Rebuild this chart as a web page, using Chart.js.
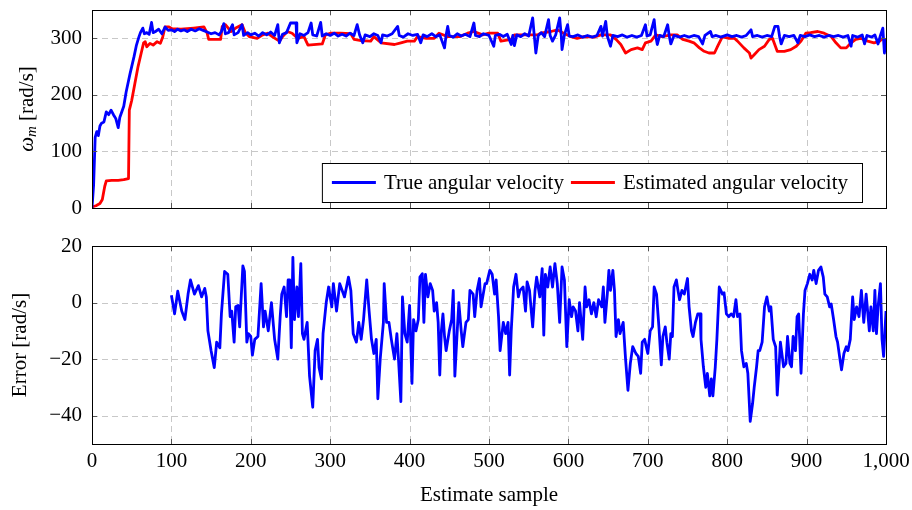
<!DOCTYPE html>
<html>
<head>
<meta charset="utf-8">
<script src="https://cdn.jsdelivr.net/npm/chart.js@4/dist/chart.umd.min.js"></script>
<style>
  body { margin: 0; background: #fff; }
  canvas { position: absolute; left: 0; }
  #top { top: 0; }
  #bottom { top: 230px; }
</style>
</head>
<body>
<canvas id="top" width="912" height="230"></canvas>
<canvas id="bottom" width="912" height="280"></canvas>
<script>
// values
var trueSamples = [0,2,4,6,8,10,12,15,18,21,24,27,30,33,35,38,40,43,46,48,50,53,56,59,61,64,66,69,72,75,77,80,84,88,92,96,100,
  104,108,112,116,120,125,130,135,140,145,150,155,160,163,166,168,172,177,179,184,189,191,196,200,205,210,215,220,225,230,234,236,240,245,250,257,258,262,267,272,276,278,283,288,290,295,
  300,305,310,315,320,325,330,334,337,341,344,350,355,360,364,366,372,378,385,387,392,398,404,410,414,417,422,428,433,438,444,446,448,450,455,460,465,470,476,481,483,488,493,
  500,506,508,513,518,523,528,530,532,535,540,545,550,555,557,559,562,566,570,575,577,580,584,589,591,592,595,599,601,606,612,618,624,630,636,641,643,647,649,653,656,662,668,674,680,686,692,697,699,
  703,708,710,712,715,720,725,727,729,733,740,746,752,758,764,769,772,779,781,786,792,800,806,812,818,824,830,832,838,844,850,856,860,864,866,868,872,878,884,889,892,898,
  904,910,916,922,928,934,940,946,952,956,958,964,970,973,976,982,986,990,993,996,998,1000];
var trueValues = [0,40,125,135,128,145,150,152,170,165,173,165,158,142,160,172,180,205,225,238,250,268,288,302,310,318,308,310,307,328,310,312,316,308,320,314,315,
  312,316,313,315,312,316,313,317,314,311,308,310,306,312,326,308,310,324,306,310,324,305,310,306,309,304,310,306,311,305,324,292,307,310,327,327,292,308,305,310,327,306,304,328,304,308,
  305,309,304,307,304,309,305,324,306,292,306,303,308,305,292,306,304,308,321,305,302,308,305,307,292,306,303,308,303,306,283,306,321,305,302,308,304,307,303,327,305,303,308,
  305,286,305,307,303,307,289,305,287,306,303,308,304,336,305,274,305,310,303,333,305,295,306,336,305,280,306,324,304,303,306,302,305,302,305,321,304,330,304,286,305,303,306,302,305,302,305,324,304,
  306,333,304,289,305,303,324,304,290,305,302,305,302,305,303,290,305,312,303,305,302,306,303,305,302,305,315,303,305,302,305,303,321,321,303,290,305,303,305,292,305,303,
  306,303,305,302,305,303,305,302,305,286,305,302,306,290,305,302,306,290,305,318,274,300];

var estSamples = [0,5,10,13,16,18,25,33,40,46,47,50,54,58,62,65,67,69,73,77,82,86,89,92,97,101,112,128,141,145,147,162,164,168,175,181,189,193,198,
  208,215,221,227,236,240,246,252,259,267,272,290,294,301,313,326,330,339,351,355,364,381,389,397,406,410,421,431,437,448,463,473,481,492,
  500,511,515,528,532,549,561,565,578,586,594,603,611,620,632,641,653,660,666,672,679,687,693,697,
  704,710,718,729,737,744,752,758,765,771,777,784,788,794,802,809,813,821,828,830,834,840,847,853,857,863,872,880,887,893,899,
  905,914,922,931,937,943,950,956,962,968,977,985,992,996,1000];
var estValues = [2,4,8,15,38,48,49,49,50,52,173,190,220,250,274,292,294,285,291,288,294,291,302,320,320,317,316,318,320,309,298,298,321,324,312,318,324,310,303,
  300,306,309,303,295,303,312,309,300,303,288,290,306,309,309,308,298,296,295,303,292,289,292,295,295,303,300,300,309,303,303,309,312,306,
  309,309,295,298,306,306,306,309,312,315,309,303,300,303,302,306,306,298,289,274,280,283,280,292,
  295,306,303,306,306,298,295,292,283,277,274,274,286,303,300,300,295,283,274,265,271,280,286,298,300,277,277,280,286,295,309,
  310,312,309,303,292,283,283,292,298,300,295,292,295,300,292];

var errSamples = [100,104,108,113,117,121,124,129,134,138,142,144,146,150,154,157,161,163,167,171,174,176,179,181,184,186,190,192,195,197,
  200,202,205,209,213,216,218,222,226,230,234,237,239,242,245,247,249,251,253,255,258,260,263,265,267,271,274,278,281,284,286,289,291,295,298,
  302,304,308,312,318,323,326,329,333,336,339,342,346,349,352,355,358,360,363,367,368,371,374,377,381,384,386,389,391,394,397,
  400,403,405,408,411,413,416,418,420,423,426,429,431,434,436,438,440,442,444,446,450,453,455,457,460,462,465,467,471,474,476,480,482,485,488,490,495,497,
  501,504,507,509,512,514,518,521,524,526,528,531,534,537,539,543,546,548,551,555,558,560,564,567,569,571,574,577,580,583,586,589,592,595,598,
  601,604,606,609,612,614,618,621,623,626,629,632,635,638,642,644,646,649,651,653,656,658,660,663,665,669,672,675,678,681,685,688,691,693,696,
  700,703,706,708,711,714,717,719,722,724,727,729,731,733,736,738,740,743,746,750,752,755,757,760,763,766,767,770,773,775,778,780,782,785,787,790,794,796,799,
  802,805,808,811,813,816,818,821,824,826,829,832,834,837,839,841,844,847,850,853,855,858,861,863,865,867,871,874,876,879,881,883,886,888,890,893,896,898,
  901,904,907,909,912,915,918,921,923,926,929,931,934,937,939,942,944,947,950,952,955,958,960,963,966,969,972,975,979,981,984,986,988,990,993,995,997,1000];
var errValues = [2.6,-4,4,-3,-6,3,8,3,6,2,5,2,-10,-17,-23,-14,-16,-4,11,10,-5,-3,-14,-1.5,-1,-8.6,13,11,-14,-11,
  -12,-18.6,-13,-12,6.7,-8.6,-3,-10,0,-13,-20,-5,3,5.5,-5,8,8,-16,16,-6,5.5,-5,13.8,-11,-13,-7,-26,-37,-17,-13,-23,-27,-11,0,5.5,
  -1.5,6.7,-3,6.7,2,9,4.3,-11,-14,-7,-13,-6,8,-3,-13,-18,-13,-34,-20,-7,6.7,-7,-7,-13,-20,-11,-20,-35,2,-11,-14,
  -1,-28.6,-6,-10,-6,9,10.2,-7,10,2,6.7,4.3,-3,0,-7,-25.6,-10,-4,-12,-17,-10,-6,4.3,-26,-10,0,-10,-15.6,-7,-6,4.3,3,-5,4.3,8.5,-1.5,6.7,6.7,
  11.4,10,3,8,-5,-17,-7,-11,-7,-25.6,-10,5.5,10,2,4.3,5.5,-3,7.3,4.3,-8.6,4.3,9,2,12,-11.5,10,5.5,12.6,5.5,13.8,6.7,-7,12.6,8,-15.6,
  1,-5,-1.5,-3,-10,0,-13,5.5,-1.5,1,-4,0,-5,1,-1.5,5.5,-7,3,11.4,4.3,11.4,4.3,-12,-6,-11,-7,-20,-31,-21.5,-15.6,-18,-19,-25,-14,-13,
  -18,-10,-8.6,5.5,3,-8.6,-22,-12,-8.6,-14,-20,-11,-12,5.5,8,4.3,1,4.3,3,8.5,-1.5,-10,-12,-7,-4,-4,-13,-22.7,-30,-25,-33,-27,-33,-22.7,-13,5.5,3,3.5,-4,
  -5,-4,-5,1,-5,-4,-17,-22.7,-21.5,-25,-42,-35.6,-30,-22.7,-17,-17,-14,-1.5,2,-3,-1.5,-13,-15.6,-32.7,-24,-14,-22.7,-21.5,-12,-21.5,-22.7,-12,-17,-5,-4,-25,-4,4.3,
  6.7,10,8,11.4,6.7,11.4,12.6,9,3,2,-1.5,-0.5,-6,-12,-14,-20,-23.8,-18,-15.6,-17,-13,2,-6,-1.5,-5,4.3,-7,3,-10,-1.5,-10,4.3,-11,-1.5,6.7,-13,-19,-3];

var xTicks = [0,100,200,300,400,500,600,700,800,900,1000];
var topTicks = [0,100,200,300];
var errTicks = [-40,-20,0,20];

var FONT = '"Liberation Serif", "Times New Roman", serif';
Chart.defaults.color = '#000';
Chart.defaults.font.family = FONT;
Chart.defaults.font.size = 21;

function pts(xs, ys) { return xs.map(function (x, i) { return {x: x, y: ys[i]}; }); }

// no automatic padding from tick labels: the plot area is laid out by hand
function noPad(s) { s.paddingLeft = 0; s.paddingRight = 0; s.paddingTop = 0; s.paddingBottom = 0; }

var frame = {
  id: 'frame',
  beforeDatasetsDraw: function (chart) {
    var ctx = chart.ctx, a = chart.chartArea, x = chart.scales.x, y = chart.scales.y;
    ctx.save();
    ctx.strokeStyle = '#c8c8c8';
    ctx.lineWidth = 1;
    ctx.setLineDash([6, 4]);
    x.ticks.forEach(function (t) {
      var p = Math.round(x.getPixelForValue(t.value)) + 0.5;
      if (p < a.left + 2 || p > a.right - 2) return;
      ctx.beginPath(); ctx.moveTo(p, a.top); ctx.lineTo(p, a.bottom); ctx.stroke();
    });
    y.ticks.forEach(function (t) {
      var p = Math.round(y.getPixelForValue(t.value)) + 0.5;
      if (p < a.top + 2 || p > a.bottom - 2) return;
      ctx.beginPath(); ctx.moveTo(a.left, p); ctx.lineTo(a.right, p); ctx.stroke();
    });
    ctx.restore();
  },
  afterDatasetsDraw: function (chart, args, opts) {
    var ctx = chart.ctx, a = chart.chartArea, x = chart.scales.x, y = chart.scales.y;
    ctx.save();
    ctx.strokeStyle = '#555';
    ctx.lineWidth = 1;
    x.ticks.forEach(function (t) {
      var p = Math.round(x.getPixelForValue(t.value)) + 0.5;
      ctx.beginPath();
      ctx.moveTo(p, a.bottom); ctx.lineTo(p, a.bottom - 5);
      ctx.moveTo(p, a.top); ctx.lineTo(p, a.top + 5);
      ctx.stroke();
    });
    y.ticks.forEach(function (t) {
      var p = Math.round(y.getPixelForValue(t.value)) + 0.5;
      ctx.beginPath();
      ctx.moveTo(a.left, p); ctx.lineTo(a.left + 5, p);
      ctx.moveTo(a.right, p); ctx.lineTo(a.right - 5, p);
      ctx.stroke();
    });
    ctx.strokeStyle = '#000';
    ctx.strokeRect(Math.round(a.left) + 0.5, Math.round(a.top) + 0.5,
      Math.round(a.right - a.left), Math.round(a.bottom - a.top));
    ctx.restore();
  },
  afterDraw: function (chart, args, opts) {
    var ctx = chart.ctx, a = chart.chartArea;
    ctx.save();
    // y axis title, rotated
    ctx.translate(opts.titleX, (a.top + a.bottom) / 2);
    ctx.rotate(-Math.PI / 2);
    ctx.textBaseline = 'middle';
    ctx.fillStyle = '#000';
    var parts = opts.title;
    var w = 0;
    parts.forEach(function (p) { ctx.font = p.font; p.w = ctx.measureText(p.text).width; w += p.w; });
    var u = -w / 2;
    parts.forEach(function (p) { ctx.font = p.font; ctx.fillText(p.text, u, p.dy || 0); u += p.w; });
    ctx.restore();

    if (!opts.legend) return;
    ctx.save();
    ctx.font = '21px ' + FONT;
    ctx.textBaseline = 'middle';
    var items = chart.data.datasets;
    var widths = items.map(function (d) { return ctx.measureText(d.label).width; });
    var total = 10;
    widths.forEach(function (tw) { total += 44 + 8 + tw + 7; });
    total += 7;
    var right = Math.round(a.right) - 24, bottom = Math.round(a.bottom) - 6;
    var left = right - total, top = bottom - 39;
    ctx.fillStyle = '#fff';
    ctx.fillRect(left, top, total, 39);
    ctx.strokeStyle = '#000';
    ctx.lineWidth = 1;
    ctx.strokeRect(left + 0.5, top + 0.5, total, 39);
    var cx = left + 10, cy = top + 19.5;
    items.forEach(function (d, i) {
      ctx.strokeStyle = d.borderColor;
      ctx.lineWidth = d.borderWidth;
      ctx.beginPath(); ctx.moveTo(cx, cy); ctx.lineTo(cx + 44, cy); ctx.stroke();
      cx += 52;
      ctx.fillStyle = '#000';
      ctx.fillText(d.label, cx, cy + 1);
      cx += widths[i] + 7;
    });
    ctx.restore();
  }
};

function xScale(showLabels, height) {
  return {
    type: 'linear', min: 0, max: 1000,
    afterBuildTicks: function (s) { s.ticks = xTicks.map(function (v) { return {value: v}; }); },
    afterFit: function (s) { s.height = height; noPad(s); },
    grid: {display: false, drawTicks: false},
    border: {display: false},
    ticks: {
      display: showLabels, padding: 5, maxRotation: 0, autoSkip: false,
      callback: function (v) { return v.toLocaleString('en-US'); }
    },
    title: {display: showLabels, text: 'Estimate sample', padding: {top: 0, bottom: 2}}
  };
}

function yScale(min, max, ticks) {
  return {
    type: 'linear', min: min, max: max,
    afterBuildTicks: function (s) { s.ticks = ticks.map(function (v) { return {value: v}; }); },
    afterFit: function (s) { s.width = 92; noPad(s); },
    grid: {display: false, drawTicks: false},
    border: {display: false},
    ticks: {padding: 10, callback: function (v) { return v < 0 ? '\u2212' + (-v) : String(v); }}
  };
}

var lineStyle = {pointRadius: 0, borderWidth: 2.8, tension: 0, fill: false, borderJoinStyle: 'round'};

new Chart(document.getElementById('top').getContext('2d'), {
  type: 'line',
  data: {
    datasets: [
      Object.assign({label: 'True angular velocity', data: pts(trueSamples, trueValues), borderColor: '#0000ff'}, lineStyle),
      Object.assign({label: 'Estimated angular velocity', data: pts(estSamples, estValues), borderColor: '#ff0000'}, lineStyle)
    ]
  },
  options: {
    responsive: false, animation: false, devicePixelRatio: 1,
    layout: {autoPadding: false, padding: {left: 0, right: 26, top: 10, bottom: 0}},
    scales: {x: xScale(false, 22), y: yScale(0, 350, topTicks)},
    plugins: {
      legend: {display: false}, tooltip: {enabled: false},
      frame: {
        legend: true, titleX: 27,
        title: [
          {text: '\u03c9', font: 'italic 21px ' + FONT},
          {text: 'm', font: 'italic 15px ' + FONT, dy: 5},
          {text: ' [rad/s]', font: '21px ' + FONT}
        ]
      }
    }
  },
  plugins: [frame]
});

new Chart(document.getElementById('bottom').getContext('2d'), {
  type: 'line',
  data: {
    datasets: [
      Object.assign({label: 'Error', data: pts(errSamples, errValues), borderColor: '#0000ff'}, lineStyle)
    ]
  },
  options: {
    responsive: false, animation: false, devicePixelRatio: 1,
    layout: {autoPadding: false, padding: {left: 0, right: 26, top: 16, bottom: 0}},
    scales: {x: xScale(true, 66), y: yScale(-50, 20, errTicks)},
    plugins: {
      legend: {display: false}, tooltip: {enabled: false},
      frame: {
        legend: false, titleX: 20,
        title: [{text: 'Error [rad/s]', font: '21px ' + FONT}]
      }
    }
  },
  plugins: [frame]
});
</script>
</body>
</html>
